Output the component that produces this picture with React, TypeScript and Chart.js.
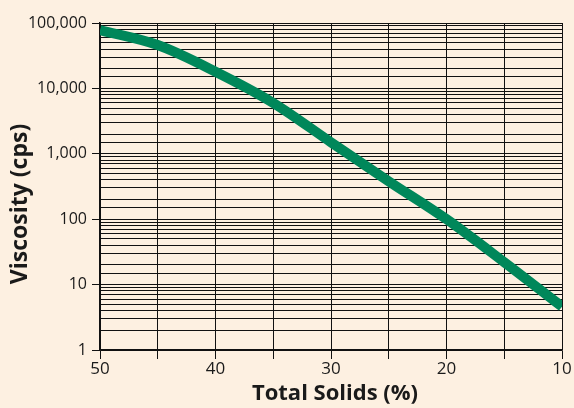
import React, { useEffect, useRef } from "react";
import { Chart, registerables } from "chart.js";

Chart.register(...registerables);

const solids = [50, 45, 40, 35, 30, 25, 20, 15, 10];
const viscosity = [78000, 46000, 18000, 6000, 1500, 380, 100, 22, 4.6];
const xTickLabels = [50, 40, 30, 20, 10];
const yTickLabels = ["1", "10", "100", "1,000", "10,000", "100,000"];

const BG = "#fdf0e1";
const LINE = "#00875a";
const FONT = "'Open Sans', 'Noto Sans', sans-serif";

export default function App() {
  const ref = useRef<HTMLCanvasElement | null>(null);

  useEffect(() => {
    document.body.style.margin = "0";
    const canvas = ref.current!;
    const titles = {
      id: "titles",
      afterDraw(chart: any) {
        const ctx = chart.ctx;
        ctx.save();
        ctx.fillStyle = "#1a1a1a";
        ctx.textAlign = "center";
        ctx.textBaseline = "middle";
        ctx.font = `bold 22px ${FONT}`;
        ctx.fillText("Total Solids (%)", 335, 394);
        ctx.translate(20, 204);
        ctx.rotate(-Math.PI / 2);
        ctx.font = `bold 23px ${FONT}`;
        ctx.fillText("Viscosity (cps)", 0, 0);
        ctx.restore();
      },
    };
    const chart = new Chart(canvas, {
      type: "line",
      data: {
        datasets: [
          {
            data: solids.map((s, i) => ({ x: s, y: viscosity[i] })),
            borderColor: LINE,
            borderWidth: 10,
            pointRadius: 0,
            tension: 0.4,
            cubicInterpolationMode: "monotone",
            borderCapStyle: "butt",
          },
        ],
      },
      options: {
        responsive: false,
        animation: false,
        layout: { padding: { top: 23, right: 12, left: 0, bottom: 0 } },
        plugins: { legend: { display: false }, tooltip: { enabled: false } },
        scales: {
          x: {
            type: "linear",
            reverse: true,
            min: 10,
            max: 50,
            afterBuildTicks: (scale: any) => {
              const t = [];
              for (let v = 10; v <= 50; v += 5) t.push({ value: v });
              scale.ticks = t;
            },
            afterFit: (scale: any) => {
              scale.height = 58;
            },
            ticks: {
              autoSkip: false,
              maxRotation: 0,
              color: "#1a1a1a",
              font: { family: FONT, size: 17 },
              padding: 0,
              callback: (v: any) => (xTickLabels.includes(Number(v)) ? String(v) : ""),
            },
            grid: { color: "#111", lineWidth: 1, tickLength: 9, tickColor: "#111" },
            border: { display: true, color: "#111", width: 1.5 },
          },
          y: {
            type: "logarithmic",
            min: 1,
            max: 100000,
            afterFit: (scale: any) => {
              scale.width = 100;
            },
            ticks: {
              autoSkip: false,
              color: "#1a1a1a",
              font: { family: FONT, size: 16 },
              padding: 5,
              callback: (v: any) => {
                const l = Math.log10(Number(v));
                if (Math.abs(l - Math.round(l)) < 1e-9) return yTickLabels[Math.round(l)];
                return "";
              },
            },
            grid: {
              color: "#111",
              lineWidth: 1,
              tickLength: 8,
              tickColor: (ctx: any) => {
                const v = ctx.tick ? ctx.tick.value : 0;
                const l = Math.log10(v);
                return Math.abs(l - Math.round(l)) < 1e-9 ? "#111" : "rgba(0,0,0,0)";
              },
            },
            border: { display: true, color: "#111", width: 1.5 },
          },
        },
      },
      plugins: [titles],
    } as any);
    return () => chart.destroy();
  }, []);

  return (
    <div style={{ position: "fixed", left: 0, top: 0, width: 574, height: 408, background: BG }}>
      <canvas ref={ref} width={574} height={408} />
    </div>
  );
}
